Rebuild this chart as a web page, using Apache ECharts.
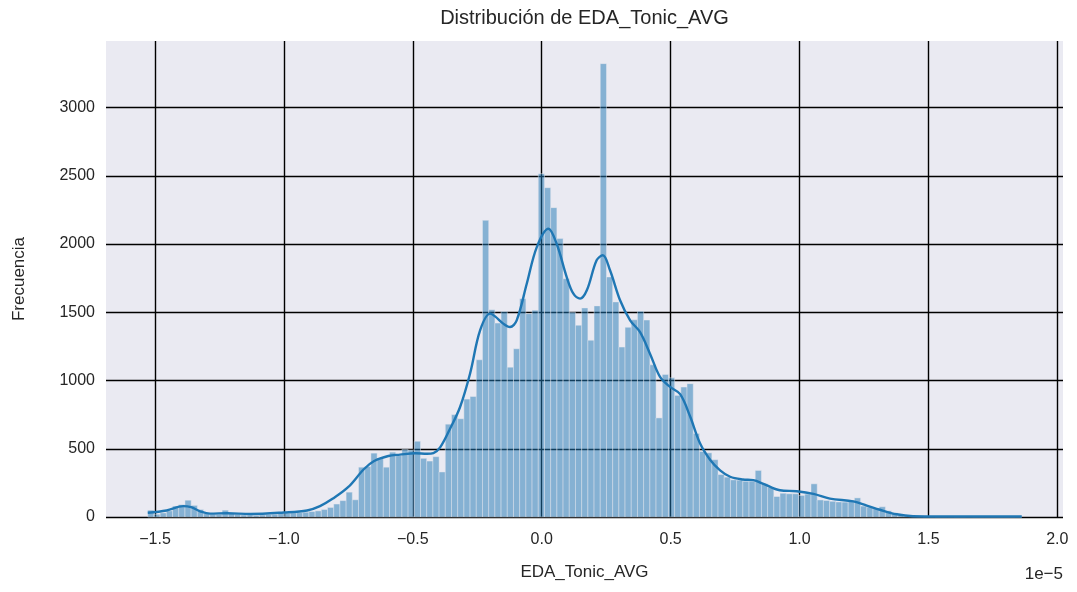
<!DOCTYPE html>
<html>
<head>
<meta charset="utf-8">
<script src="https://cdn.jsdelivr.net/npm/echarts@6/dist/echarts.min.js"></script>
<style>
  html, body { margin: 0; padding: 0; background: #ffffff; }
  #chart { width: 1077px; height: 592px; }
</style>
</head>
<body>
<div id="chart"></div>
<script>
// histograma (unidades de 1e-5)
var binStart = -1.528;
var binWidth = 0.024043;
var counts = [
  50, 20, 30, 45, 80, 90, 123, 85, 55, 25,
  20, 20, 50, 25, 20, 15, 15, 12, 15, 18,
  20, 25, 28, 30, 32, 35, 40, 45, 55, 70,
  95, 120, 182, 126, 365, 370, 468, 430, 365, 475,
  450, 495, 490, 555, 430, 410, 442, 330, 680, 750,
  720, 864, 883, 1152, 2174, 1519, 1421, 1505, 1098, 1233,
  1600, 1490, 1515, 2516, 2413, 2267, 2040, 1746, 1500, 1405,
  1532, 1295, 1547, 3322, 1759, 1576, 1245, 1390, 1445, 1508,
  1443, 1115, 726, 1045, 1020, 891, 952, 977, 612, 480,
  470, 420, 311, 292, 272, 270, 262, 262, 341, 243,
  218, 150, 174, 170, 170, 158, 168, 243, 125, 121,
  115, 110, 109, 120, 140, 80, 72, 62, 75, 45,
  30, 15, 8, 5, 3, 2, 2, 1, 1, 1,
  0, 0, 1, 0, 0, 0, 0, 0, 0, 0,
  1
];

// curva KDE
var kdeX = [-1.528, -1.455, -1.39, -1.36, -1.325, -1.286, -1.22, -1.13, -1.0, -0.91,
  -0.86, -0.81, -0.75, -0.69, -0.65, -0.595, -0.55, -0.49, -0.445, -0.42,
  -0.394, -0.356, -0.317, -0.278, -0.239, -0.2, -0.181, -0.149, -0.123, -0.097,
  -0.058, -0.019, 0.026, 0.058, 0.097, 0.123, 0.149, 0.175, 0.213, 0.237,
  0.265, 0.304, 0.343, 0.381, 0.42, 0.459, 0.498, 0.537, 0.575, 0.614,
  0.653, 0.692, 0.731, 0.78, 0.821, 0.86, 0.924, 0.989, 1.054, 1.118,
  1.209, 1.261, 1.312, 1.377, 1.44, 1.55, 1.7, 1.862];
var kdeY = [31, 48, 80, 72, 42, 25, 28, 22, 33, 48,
  80, 135, 220, 350, 410, 447, 457, 467, 463, 468,
  510, 645, 804, 1050, 1367, 1490, 1470, 1417, 1392, 1441,
  1709, 1978, 2112, 2002, 1758, 1636, 1600, 1661, 1881, 1918,
  1808, 1588, 1441, 1356, 1197, 1026, 953, 900, 740, 540,
  420, 342, 295, 275, 270, 243, 196, 189, 170, 135,
  114, 84, 53, 20, 6, 4, 4, 4];

var xTicks = [-1.5, -1.0, -0.5, 0.0, 0.5, 1.0, 1.5, 2.0];
var yTicks = [0, 500, 1000, 1500, 2000, 2500, 3000];

var barData = [];
for (let i = 0; i < counts.length; i++) {
    barData.push([binStart + i * binWidth, binStart + (i + 1) * binWidth, counts[i]]);
}
var kdeData = [];
for (let i = 0; i < kdeX.length; i++) {
    kdeData.push([kdeX[i], kdeY[i]]);
}

var font = '"Liberation Sans", Arial, sans-serif';
var txt = '#262626';

var chart = echarts.init(document.getElementById('chart'));
var option = {
    animation: false,
    backgroundColor: '#ffffff',
    grid: {
        left: 106, right: 14, top: 41, bottom: 75,
        show: true, backgroundColor: '#eaeaf2', borderWidth: 0
    },
    graphic: [
        {
            type: 'text', x: 584.5, y: 18,
            style: { text: 'Distribución de EDA_Tonic_AVG', font: '20px ' + font, fill: txt,
                     textAlign: 'center', textVerticalAlign: 'middle' }
        },
        {
            type: 'text', x: 1063, y: 574,
            style: { text: '1e\u22125', font: '17px ' + font, fill: txt,
                     textAlign: 'right', textVerticalAlign: 'middle' }
        }
    ],
    xAxis: {
        type: 'value',
        min: -1.69,
        max: 2.022,
        name: 'EDA_Tonic_AVG',
        nameLocation: 'middle',
        nameGap: 47,
        nameTextStyle: { fontFamily: font, fontSize: 17, color: txt },
        axisLine: { show: false },
        axisTick: { show: false, customValues: xTicks },
        axisLabel: {
            customValues: xTicks,
            margin: 15,
            fontFamily: font, fontSize: 16, color: txt,
            formatter: function (v) { return v.toFixed(1).replace('-', '\u2212'); }
        },
        splitLine: { show: true, lineStyle: { color: '#000000', width: 1.4 } }
    },
    yAxis: {
        type: 'value',
        min: 0,
        max: 3488,
        name: 'Frecuencia',
        nameLocation: 'middle',
        nameGap: 78,
        nameTextStyle: { fontFamily: font, fontSize: 17, color: txt },
        axisLine: { show: false },
        axisTick: { show: false, customValues: yTicks },
        axisLabel: {
            customValues: yTicks,
            margin: 11,
            fontFamily: font, fontSize: 16, color: txt,
            formatter: function (v) { return String(v); }
        },
        splitLine: { show: true, lineStyle: { color: '#000000', width: 1.4 } }
    },
    series: [
        {
            type: 'custom',
            data: barData,
            encode: { x: [0, 1], y: 2 },
            renderItem: function (params, api) {
                var p0 = api.coord([api.value(0), 0]);
                var p1 = api.coord([api.value(1), api.value(2)]);
                return {
                    type: 'rect',
                    shape: { x: p0[0], y: p1[1], width: p1[0] - p0[0], height: p0[1] - p1[1] },
                    style: { fill: 'rgba(31,119,180,0.5)', stroke: 'rgba(234,234,242,0.55)', lineWidth: 0.8 }
                };
            },
            z: 2
        },
        {
            type: 'line',
            data: kdeData,
            smooth: 0.35,
            showSymbol: false,
            lineStyle: { color: '#1f77b4', width: 2.4 },
            z: 3
        }
    ]
};
chart.setOption(option);
</script>
</body>
</html>
